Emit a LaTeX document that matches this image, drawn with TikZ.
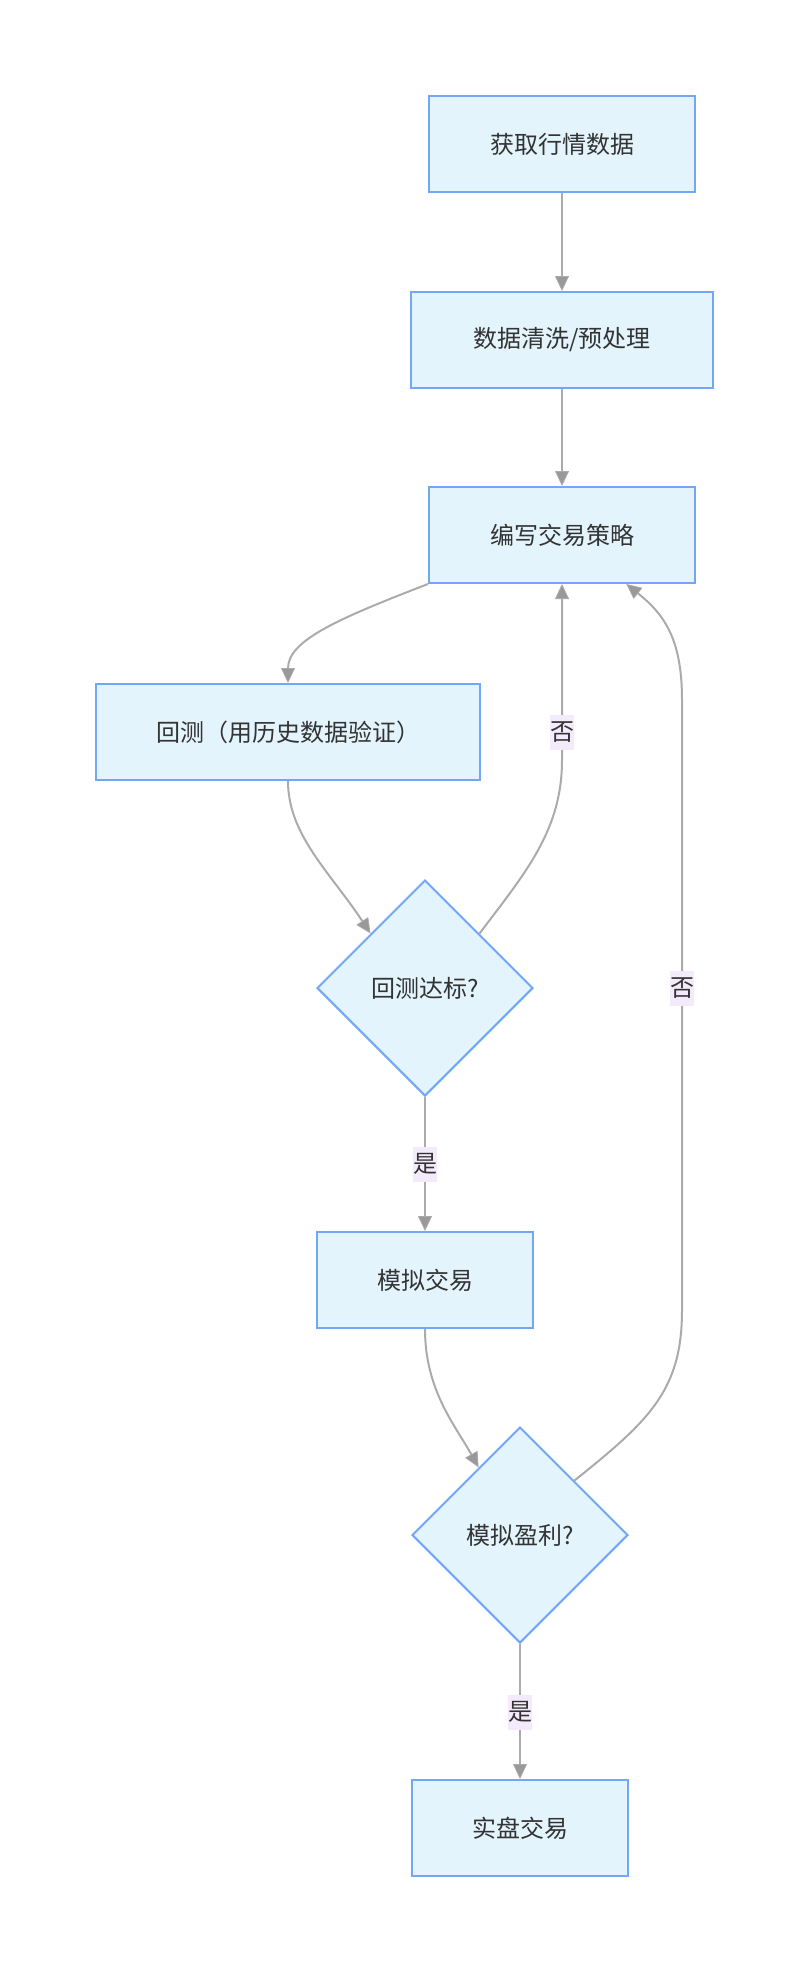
\documentclass[tikz,border=0pt]{standalone}
\usepackage{fontspec}
\newfontfamily\cjk{Noto Sans CJK SC}
\usetikzlibrary{shapes.geometric,arrows.meta,calc}
\definecolor{boxfill}{HTML}{E3F4FD}
\definecolor{boxdraw}{HTML}{73A6F7}
\definecolor{edgec}{HTML}{ABABAB}
\definecolor{headc}{HTML}{999999}
\definecolor{lblbg}{HTML}{F3EAFB}
\definecolor{txt}{HTML}{333333}
\tikzset{
  procbox/.style={draw=boxdraw, fill=boxfill, line width=2pt, minimum height=96pt, inner sep=0pt, text=txt, font=\cjk\fontsize{24}{29}\selectfont},
  decbox/.style={diamond, draw=boxdraw, fill=boxfill, line width=2pt, minimum width=216pt, minimum height=216pt, aspect=1, inner sep=0pt, text=txt, font=\cjk\fontsize{24}{29}\selectfont},
  flow/.style={draw=edgec, line width=2pt, -{Triangle[length=15pt,width=14pt,fill=headc,line width=0.8pt]}},
  elabel/.style={fill=lblbg, inner sep=0pt, minimum width=24pt, minimum height=35pt, text=txt, font=\cjk\fontsize{24}{29}\selectfont}
}
\begin{document}
\begin{tikzpicture}[x=1pt,y=-1pt]
\useasboundingbox (0,0) rectangle (808,1972);
\node[procbox, minimum width=266pt] (b1) at (562,144) {获取行情数据};
\node[procbox, minimum width=302pt] (b2) at (562,340) {数据清洗/预处理};
\node[procbox, minimum width=266pt] (b3) at (562,535) {编写交易策略};
\node[procbox, minimum width=384pt] (b4) at (288,732) {回测（用历史数据验证）};
\node[decbox] (d1) at (425,988) {回测达标?};
\node[procbox, minimum width=216pt] (b5) at (425,1280) {模拟交易};
\node[decbox] (d2) at (520,1535) {模拟盈利?};
\node[procbox, minimum width=216pt] (b6) at (520,1828) {实盘交易};

\coordinate (b3r) at ($(b3.south)!0.48!(b3.south east)$);
\coordinate (d2a) at ($(d2.north)!0.38!(d2.west)$);

\draw[flow] (b1.south) -- (b2.north);
\draw[flow] (b2.south) -- (b3.north);
\draw[flow] (b3.south west) .. controls (340,618) and (288,640) .. (b4.north);
\draw[flow] (b4.south) .. controls (288,835) and (330,872) .. (d1.north west);
\draw[flow] (d1.north east) .. controls (526,872) and (562,830) .. (562,760) -- (b3.south);
\node[elabel] (l1) at (562,732) {否};
\draw[flow] (d1.south) -- (b5.north);
\node[elabel] (l2) at (425,1164) {是};
\draw[flow] (b5.south) .. controls (425,1390) and (455,1425) .. (d2a);
\draw[flow] (d2.north east) .. controls (650,1420) and (682,1390) .. (682,1310) -- (682,700) .. controls (682,640) and (665,615) .. (b3r);
\node[elabel] (l3) at (682,988) {否};
\draw[flow] (d2.south) -- (b6.north);
\node[elabel] (l4) at (520,1712) {是};
\end{tikzpicture}
\end{document}
